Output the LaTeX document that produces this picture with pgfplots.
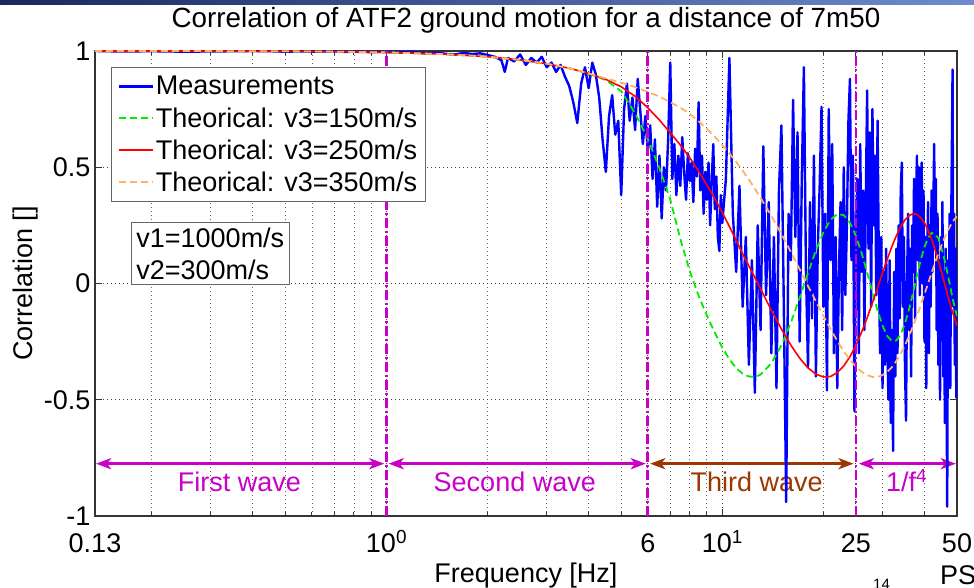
\documentclass[border=0pt]{standalone}
\usepackage{fontspec}
\setmainfont{Liberation Sans}
\usepackage{pgfplots}
\pgfplotsset{compat=1.18}
\usetikzlibrary{arrows.meta}
\definecolor{mblue}{RGB}{0,0,255}
\definecolor{mgreen}{RGB}{0,235,0}
\definecolor{mred}{RGB}{255,0,0}
\definecolor{morange}{RGB}{255,178,102}
\definecolor{mmag}{RGB}{200,0,200}
\definecolor{mbrown}{RGB}{155,55,0}
\newcommand\bigf{\fontsize{27}{32}\selectfont}
\begin{document}
\begin{tikzpicture}
\useasboundingbox (-95pt,-72pt) rectangle (879pt,516pt);
\shade[left color={rgb,255:red,25;green,40;blue,95}, right color={rgb,255:red,110;green,140;blue,205}] (-95pt,511pt) rectangle (879pt,516pt);
\begin{axis}[
  at={(0,0)}, anchor=south west,
  xmode=log, scale only axis, width=862pt, height=465pt,
  xmin=0.1355, xmax=50, ymin=-1, ymax=1,
  xtick={0.1355,1,6,10,25,50},
  xticklabels={0.13,10\textsuperscript{0},6,10\textsuperscript{1},25,50},
  minor xtick={0.2,0.3,0.4,0.5,0.6,0.7,0.8,0.9,2,3,4,5,7,8,9,20,30,40},
  ytick={-1,-0.5,0,0.5,1},
  yticklabels={-1,-0.5,0,0.5,1},
  /pgf/number format/assume math mode=true,
  grid=both,
  major grid style={black!75, line width=0.9pt, dash pattern=on 1pt off 3pt},
  minor grid style={black!60, line width=0.9pt, dash pattern=on 1pt off 3pt},
  axis line style={black!80, line width=1.2pt},
  major tick length=7pt, minor tick length=4pt,
  every tick/.style={black!80, line width=1pt},
  tick align=inside,
  tick label style={font=\bigf},
  xticklabel style={anchor=base, yshift=-37pt},
  yticklabel style={anchor=east, xshift=-1pt},
  title={Correlation of ATF2 ground motion for a distance of 7m50},
  title style={font=\fontsize{27.8}{32}\selectfont, at={(axis description cs:0.5,1.038)}, anchor=base, yshift=0pt},
  xlabel={Frequency [Hz]},
  xlabel style={font=\bigf, at={(axis description cs:0.5,-0.142)}, anchor=base},
  ylabel={Correlation []},
  ylabel style={font=\bigf, at={(axis description cs:-0.072,0.5)}, anchor=base},
  legend style={at={(axis description cs:0.0186,0.9656)}, anchor=north west,
    draw=black!60, line width=0.8pt, fill=white, font=\bigf,
    inner xsep=6pt, inner ysep=7pt, row sep=7pt},
  legend cell align=left,
  legend image code/.code={\draw[#1] (0pt,0pt) -- (34pt,0pt);},
]
% wave annotations
\draw[mmag, line width=3pt, {Stealth[length=15pt,width=11pt,inset=4pt]}-{Stealth[length=15pt,width=11pt,inset=4pt]}] (axis cs:0.1365,-0.775) -- (axis cs:0.985,-0.775);
\draw[mmag, line width=3pt, {Stealth[length=15pt,width=11pt,inset=4pt]}-{Stealth[length=15pt,width=11pt,inset=4pt]}] (axis cs:1.015,-0.775) -- (axis cs:5.92,-0.775);
\draw[mbrown, line width=3pt, {Stealth[length=15pt,width=11pt,inset=4pt]}-{Stealth[length=15pt,width=11pt,inset=4pt]}] (axis cs:6.1,-0.775) -- (axis cs:24.6,-0.775);
\draw[mmag, line width=3pt, {Stealth[length=15pt,width=11pt,inset=4pt]}-{Stealth[length=15pt,width=11pt,inset=4pt]}] (axis cs:25.5,-0.775) -- (axis cs:49.6,-0.775);
\node[mmag, font=\bigf, anchor=base] at (axis cs:0.365,-0.896) {First wave};
\node[mmag, font=\bigf, anchor=base] at (axis cs:2.41,-0.896) {Second wave};
\node[mbrown, font=\bigf, anchor=base] at (axis cs:12.66,-0.896) {Third wave};
\node[mmag, font=\bigf, anchor=base] at (axis cs:35.4,-0.896) {1/f\textsuperscript{4}};
% measurements
\addplot[mblue, line width=2.4pt, line join=round] coordinates {
(0.1355,1.0) (0.16,0.998) (0.2,0.999) (0.25,0.997) (0.3,0.998) (0.35,0.999) (0.4,1.0) (0.45,0.999) (0.5,0.997) (0.55,0.998) (0.6,0.997) (0.65,0.998) (0.7,0.999) (0.75,0.996) (0.8,0.997) (0.85,0.996) (0.9,0.995) (0.95,0.996) (1.0,0.995)
(1.1,0.994) (1.2,0.996) (1.3,0.99) (1.4,0.993) (1.5,0.988) (1.6,0.985) (1.7,0.992) (1.8,0.987) (1.9,0.99) (2.0,0.983)
(2.1,0.975) (2.2,0.96) (2.25,0.91) (2.3,0.97) (2.4,0.955) (2.5,0.985) (2.6,0.94) (2.7,0.97) (2.8,0.95) (2.9,0.975) (3.0,0.93)
(3.1,0.95) (3.2,0.91) (3.3,0.94) (3.4,0.89) (3.5,0.85) (3.6,0.78) (3.7,0.69) (3.8,0.86) (3.9,0.93) (4.0,0.84)
(4.1,0.95) (4.2,0.90) (4.3,0.80) (4.4,0.62) (4.5,0.48) (4.6,0.72) (4.7,0.81) (4.8,0.64) (4.9,0.70) (5.0,0.38)
(5.1,0.75) (5.2,0.86) (5.3,0.70) (5.4,0.80) (5.5,0.66) (5.6,0.88) (5.7,0.74) (5.8,0.60) (5.9,0.72) (6.0,0.57)
(6.1,0.68) (6.2,0.45) (6.3,0.62) (6.4,0.33) (6.5,0.55) (6.6,0.28) (6.7,0.50) (6.8,0.40) (6.9,0.62) (7.0,0.95)
(7.1,0.45) (7.2,0.60) (7.3,0.38) (7.4,0.55) (7.5,0.42) (7.6,0.63) (7.7,0.48) (7.8,0.36) (7.9,0.56) (8.0,0.44)
(8.1,0.52) (8.2,0.35) (8.3,0.58) (8.4,0.46) (8.5,0.78) (8.6,0.40) (8.7,0.55) (8.8,0.30) (8.9,0.48) (9.0,0.36)
(9.1,0.52) (9.2,0.25) (9.3,0.44) (9.4,0.60) (9.5,0.32) (9.6,0.46) (9.7,0.20) (9.8,0.14) (9.9,0.38) (10.0,0.26)
(10.25,0.45) (10.5,0.97) (10.75,0.30) (11.0,0.05) (11.25,0.42) (11.5,-0.10) (11.75,0.20) (12.0,-0.35) (12.25,0.10) (12.5,-0.47)
(12.75,0.25) (13.0,-0.20) (13.25,0.59) (13.5,-0.05) (13.75,0.35) (14.0,-0.30) (14.25,0.20) (14.5,-0.45) (14.75,0.40) (15.0,0.68)
(15.25,-0.10) (15.5,-0.94) (15.75,0.30) (16.0,0.10) (16.25,0.79) (16.5,0.20) (16.75,0.65) (17.0,-0.25) (17.25,0.45) (17.5,0.93)
(17.75,0.05) (18.0,-0.36) (18.25,0.35) (18.5,-0.15) (18.75,0.55) (19.0,-0.40) (19.25,0.15) (19.5,0.42) (19.75,0.76) (20.0,-0.10)
(20.25,0.30) (20.5,-0.46) (20.75,0.75) (21.0,0.10) (21.25,0.60) (21.5,-0.30) (21.75,0.20) (22.0,-0.45) (22.25,0.05) (22.5,0.35)
(22.75,-0.20) (23.0,0.50) (23.25,-0.05) (23.5,0.25) (23.75,0.70) (24.0,0.88) (24.25,0.10) (24.5,0.55) (24.75,-0.55) (25.0,0.20)
(25.25,0.45) (25.5,-0.30) (25.75,0.60) (26.0,0.05) (26.25,0.40) (26.5,-0.20) (26.75,0.35) (27.0,0.83) (27.25,0.15) (27.5,0.65)
(27.75,-0.10) (28.0,0.75) (28.25,0.25) (28.5,0.55) (28.75,-0.05) (29.0,0.70) (29.25,0.10) (29.5,-0.30) (29.75,0.20) (30.0,-0.45)
(30.25,0.05) (30.5,-0.35) (30.75,0.15) (31.0,-0.25) (31.25,-0.50) (31.5,0.10) (31.75,-0.60) (32.0,-0.20) (32.25,-0.72) (32.5,0.05)
(32.75,-0.40) (33.0,0.15) (33.25,-0.30) (33.5,0.25) (33.75,-0.15) (34.0,0.40) (34.25,0.52) (34.5,-0.10) (34.75,0.20) (35.0,-0.35)
(35.25,-0.59) (35.5,0.00) (35.75,0.30) (36.0,-0.20) (36.25,0.15) (36.5,-0.40) (36.75,0.25) (37.0,0.05) (37.25,0.45) (37.5,-0.15)
(37.75,0.35) (38.0,0.55) (38.25,0.10) (38.5,0.50) (38.75,-0.05) (39.0,0.30) (39.25,0.52) (39.5,0.00) (39.75,0.40) (40.0,-0.25)
(40.25,0.20) (40.5,-0.45) (40.75,0.10) (41.0,0.35) (41.25,-0.30) (41.5,0.25) (41.75,-0.10) (42.0,0.40) (42.25,0.05) (42.5,0.30)
(42.75,0.60) (43.0,0.15) (43.25,0.45) (43.5,-0.20) (43.75,0.30) (44.0,-0.35) (44.25,0.10) (44.5,-0.50) (44.75,0.20) (45.0,-0.15)
(45.25,0.35) (45.5,-0.40) (45.75,0.05) (46.0,-0.60) (46.25,0.15) (46.5,-0.30) (46.75,-0.96) (47.0,0.10) (47.25,-0.25) (47.5,0.30)
(47.75,-0.45) (48.0,0.20) (48.25,0.55) (48.5,0.92) (48.75,-0.10) (49.0,0.30) (49.25,-0.35) (49.5,0.15) (49.75,-0.49) (50.0,-0.20)
};
\addlegendentry{Measurements}
% theoretical v3=150
\addplot[mgreen, line width=1.8pt, dash pattern=on 7pt off 4pt] coordinates {
(0.1355,1.000) (0.2,1.000) (0.3,0.9995) (0.5,0.9986) (0.7,0.9973) (1.0,0.9940) (1.5,0.9862) (2.0,0.9755) (2.5,0.9618) (3.0,0.9453) (3.5,0.9259) (4.0,0.9034)
(4.5,0.875) (5,0.827) (5.5,0.732) (6,0.622) (6.5,0.496) (7,0.361) (7.5,0.192) (8,0.053) (8.5,-0.052) (9,-0.138) (9.5,-0.212) (10,-0.276)
(10.5,-0.326) (11,-0.364) (11.5,-0.388) (12,-0.400) (12.5,-0.402) (13,-0.392) (14,-0.343) (15,-0.266) (16,-0.169) (17,-0.061) (18,0.045)
(19,0.142) (20,0.220) (21,0.274) (22,0.299) (23,0.294) (24,0.261) (25,0.204) (26,0.131) (27,0.047) (28,-0.038) (29,-0.117) (30,-0.181)
(31,-0.226) (32,-0.248) (33,-0.245) (34,-0.219) (35,-0.172) (36,-0.110) (37,-0.039) (38,0.034) (39,0.101) (40,0.157) (41,0.196)
(42,0.217) (43,0.214) (44,0.194) (45,0.150) (46,0.097) (47,0.034) (48,-0.031) (49,-0.091) (50,-0.141)
};
\addlegendentry{Theorical: v3=150m/s}
% theoretical v3=250
\addplot[mred, line width=1.6pt] coordinates {
(0.1355,1.000) (0.2,1.000) (0.3,0.9995) (0.5,0.9986) (0.7,0.9973) (1.0,0.9940) (1.5,0.9862) (2.0,0.9755) (2.5,0.9618) (3.0,0.9453) (3.5,0.9259) (4.0,0.9034)
(4.5,0.878) (5,0.846) (5.5,0.805) (6,0.756) (6.5,0.703) (7,0.648) (7.5,0.596) (8,0.541) (8.5,0.483) (9,0.423) (9.5,0.365) (10,0.305)
(10.5,0.245) (11,0.185) (11.5,0.128) (12,0.076) (12.5,0.026) (13,-0.023) (14,-0.115) (15,-0.196) (16,-0.265) (17,-0.321) (18,-0.363)
(19,-0.390) (20,-0.402) (21,-0.400) (22,-0.383) (23,-0.355) (24,-0.315) (25,-0.266) (26,-0.209) (27,-0.148) (28,-0.083) (29,-0.018)
(30,0.045) (31,0.105) (32,0.159) (33,0.206) (34,0.245) (35,0.274) (36,0.292) (37,0.300) (38,0.297) (39,0.283) (40,0.261) (41,0.229)
(42,0.191) (43,0.146) (44,0.098) (45,0.047) (46,-0.005) (47,-0.055) (48,-0.102) (49,-0.144) (50,-0.181)
};
\addlegendentry{Theorical: v3=250m/s}
% theoretical v3=350
\addplot[morange, line width=1.8pt, dash pattern=on 7pt off 4pt] coordinates {
(0.1355,1.000) (0.2,1.000) (0.3,0.9995) (0.5,0.9986) (0.7,0.9973) (1.0,0.9940) (1.5,0.9862) (2.0,0.9755) (2.5,0.9618) (3.0,0.9453) (3.5,0.9259) (4.0,0.9034)
(4.5,0.882) (5,0.864) (5.5,0.845) (6,0.824) (6.5,0.804) (7,0.780) (7.5,0.756) (8,0.730) (8.5,0.698) (9,0.665) (9.5,0.631) (10,0.595)
(10.5,0.559) (11,0.523) (11.5,0.485) (12,0.447) (12.5,0.408) (13,0.369) (14,0.291) (15,0.213) (16,0.136) (17,0.062) (18,-0.010)
(19,-0.077) (20,-0.139) (21,-0.196) (22,-0.247) (23,-0.291) (24,-0.328) (25,-0.358) (26,-0.380) (27,-0.394) (28,-0.402) (29,-0.402)
(30,-0.394) (31,-0.380) (32,-0.360) (33,-0.333) (34,-0.302) (35,-0.266) (36,-0.226) (37,-0.183) (38,-0.139) (39,-0.093) (40,-0.046)
(41,0.000) (42,0.045) (43,0.089) (44,0.129) (45,0.166) (46,0.200) (47,0.229) (48,0.254) (49,0.274) (50,0.288)
};
\addlegendentry{Theorical: v3=350m/s}
% boundaries
\addplot[mmag, line width=2.7pt, dash pattern=on 10pt off 3pt on 2pt off 3pt, forget plot] coordinates {(1,-1) (1,1)};
\addplot[mmag, line width=2.7pt, dash pattern=on 10pt off 3pt on 2pt off 3pt, forget plot] coordinates {(6,-1) (6,1)};
\addplot[mmag, line width=2.7pt, dash pattern=on 10pt off 3pt on 2pt off 3pt, forget plot] coordinates {(25,-1) (25,1)};
\node[draw=black!60, line width=0.8pt, fill=white, font=\bigf, align=left, anchor=north west, inner sep=5pt] at (axis description cs:0.0418,0.632) {v1=1000m/s\\v2=300m/s};
\end{axis}
\node[font=\bigf, anchor=base west, inner sep=0pt] at (845pt,-69pt) {PS};
\node[font=\fontsize{15}{15}\selectfont, anchor=north west, inner sep=0pt] at (778pt,-63pt) {14};
\end{tikzpicture}
\end{document}
